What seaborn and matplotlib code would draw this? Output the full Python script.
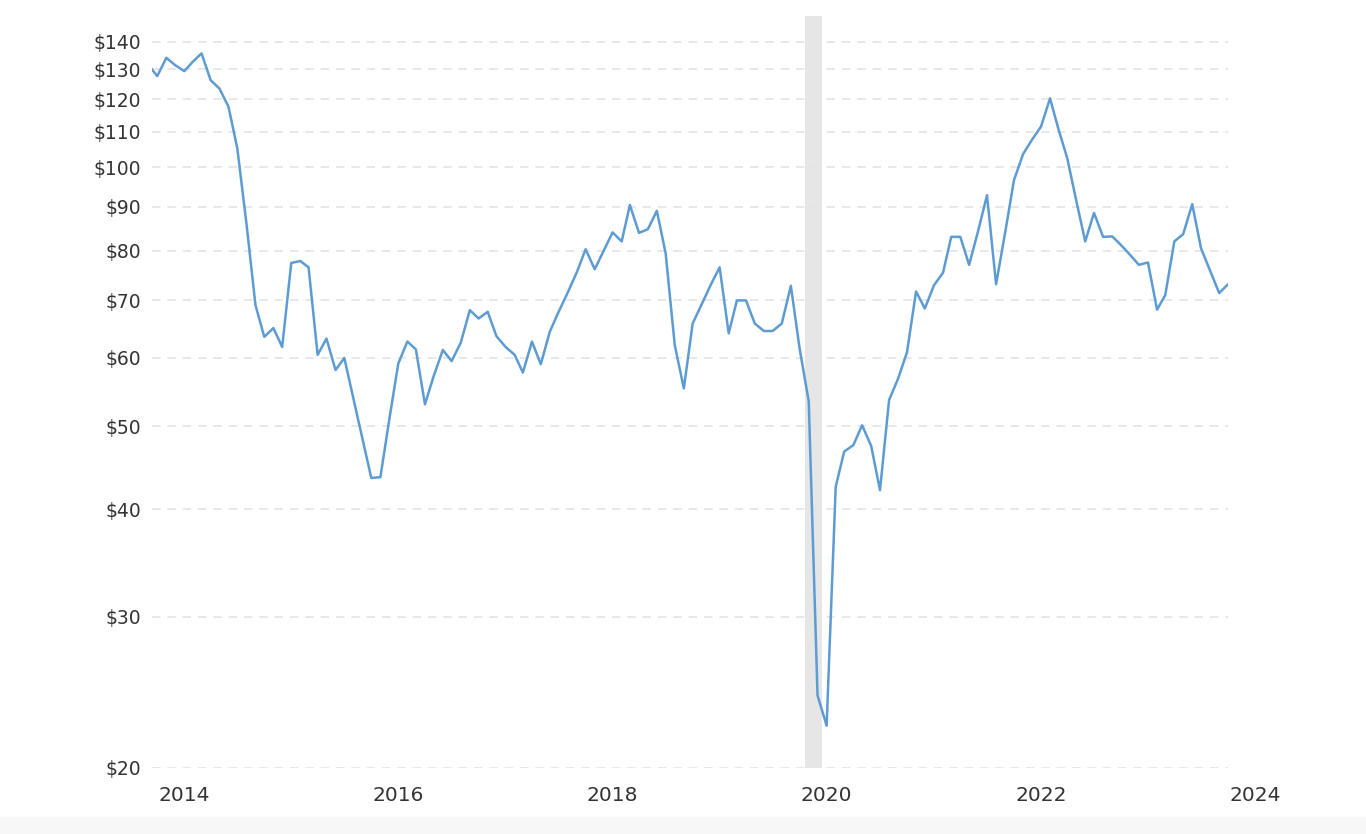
import pandas as pd
import matplotlib
matplotlib.use("Agg")
import matplotlib.pyplot as plt
import matplotlib.dates as mdates
import matplotlib.ticker as mticker
from matplotlib.patches import Rectangle
import seaborn as sns

# monthly prices, Sep 2013 .. Oct 2023
start_month = "2013-09-01"
prices = [
    131.5, 127.7, 134.1, 131.5, 129.4, 132.9, 135.7, 126.3, 123.5, 117.6,
    105.2, 86.1, 69.1, 63.5, 65.0, 61.8, 77.4, 77.8, 76.5, 60.5,
    63.2, 58.1, 60.0, 53.8, 48.3, 43.5, 43.6, 50.8, 59.1, 62.7,
    61.4, 53.0, 57.2, 61.3, 59.5, 62.5, 68.2, 66.7, 67.9, 63.6,
    61.8, 60.5, 57.7, 62.7, 59.0, 64.4, 67.9, 71.5, 75.5, 80.3,
    76.1, 79.9, 84.0, 82.0, 90.4, 83.9, 84.7, 89.0, 79.4, 62.1,
    55.3, 65.8, 69.3, 72.9, 76.5, 64.1, 70.0, 70.0, 65.8, 64.5,
    64.5, 65.8, 72.8, 61.5, 53.4, 24.3, 22.4, 42.5, 46.7, 47.5,
    50.1, 47.4, 42.1, 53.6, 56.8, 60.9, 71.7, 68.5, 72.9, 75.4,
    83.0, 83.0, 77.0, 84.4, 92.8, 73.1, 84.0, 96.6, 103.6, 107.6,
    111.5, 120.3, 111.0, 102.4, 91.6, 82.0, 88.5, 83.0, 83.1, 81.2,
    79.1, 77.0, 77.5, 68.3, 71.0, 82.0, 83.6, 90.6, 80.5, 75.8,
    71.4, 73.1,
]
y_ticks = [20, 30, 40, 50, 60, 70, 80, 90, 100, 110, 120, 130, 140]
x_tick_years = [2014, 2016, 2018, 2020, 2022]
extra_year_label = 2024
shade_span = ("2019-10-18", "2019-12-15")
view_range = ("2013-09-13", "2023-10-01")

df = pd.DataFrame({
    "date": pd.date_range(start_month, periods=len(prices), freq="MS"),
    "price": prices,
})

sns.set_theme(style="white")
plt.rcParams["font.family"] = ["DejaVu Sans"]

fig = plt.figure(figsize=(13.66, 8.34), dpi=100)
ax = fig.add_axes([152 / 1366, 1 - 768 / 834, (1228 - 152) / 1366, (768 - 16) / 834])

# gray strip at the bottom of the page
fig.patches.append(Rectangle((0, 0), 1, 17 / 834, transform=fig.transFigure,
                             color="#f7f7f7", zorder=-5))

ax.axvspan(pd.Timestamp(shade_span[0]), pd.Timestamp(shade_span[1]),
           color="#e6e6e6", lw=0, zorder=0)

sns.lineplot(data=df, x="date", y="price", ax=ax, color="#5d9bd3",
             linewidth=1.8, zorder=3)

ax.set_yscale("log")
ax.set_ylim(20, 150)
ax.set_xlim(pd.Timestamp(view_range[0]), pd.Timestamp(view_range[1]))

ax.yaxis.set_major_locator(mticker.FixedLocator(y_ticks))
ax.yaxis.set_minor_locator(mticker.NullLocator())
ax.yaxis.set_major_formatter(mticker.FuncFormatter(lambda v, p: f"${v:.0f}"))

ax.set_xticks([pd.Timestamp(f"{y}-01-01") for y in x_tick_years])
ax.xaxis.set_major_formatter(mdates.DateFormatter("%Y"))

ax.yaxis.grid(True, linestyle=(0, (5, 4.2)), color="#e4e4e4", linewidth=1.2, zorder=1)
ax.xaxis.grid(False)
ax.set_axisbelow(True)
for s in ax.spines.values():
    s.set_visible(False)

ax.tick_params(axis="both", length=0, labelcolor="#333333")
ax.tick_params(axis="y", pad=8, labelsize=13.5)
ax.tick_params(axis="x", pad=13, labelsize=14.5)
ax.set_xlabel("")
ax.set_ylabel("")

# 2024 sits just past the end of the data, outside the view range
ax.annotate(str(extra_year_label),
            xy=(mdates.date2num(pd.Timestamp(f"{extra_year_label}-01-01")), 0),
            xycoords=("data", "axes fraction"),
            xytext=(0, -13), textcoords="offset points",
            ha="center", va="top", fontsize=14.5, color="#333333",
            annotation_clip=False)

fig.savefig("out.png", dpi=100)
